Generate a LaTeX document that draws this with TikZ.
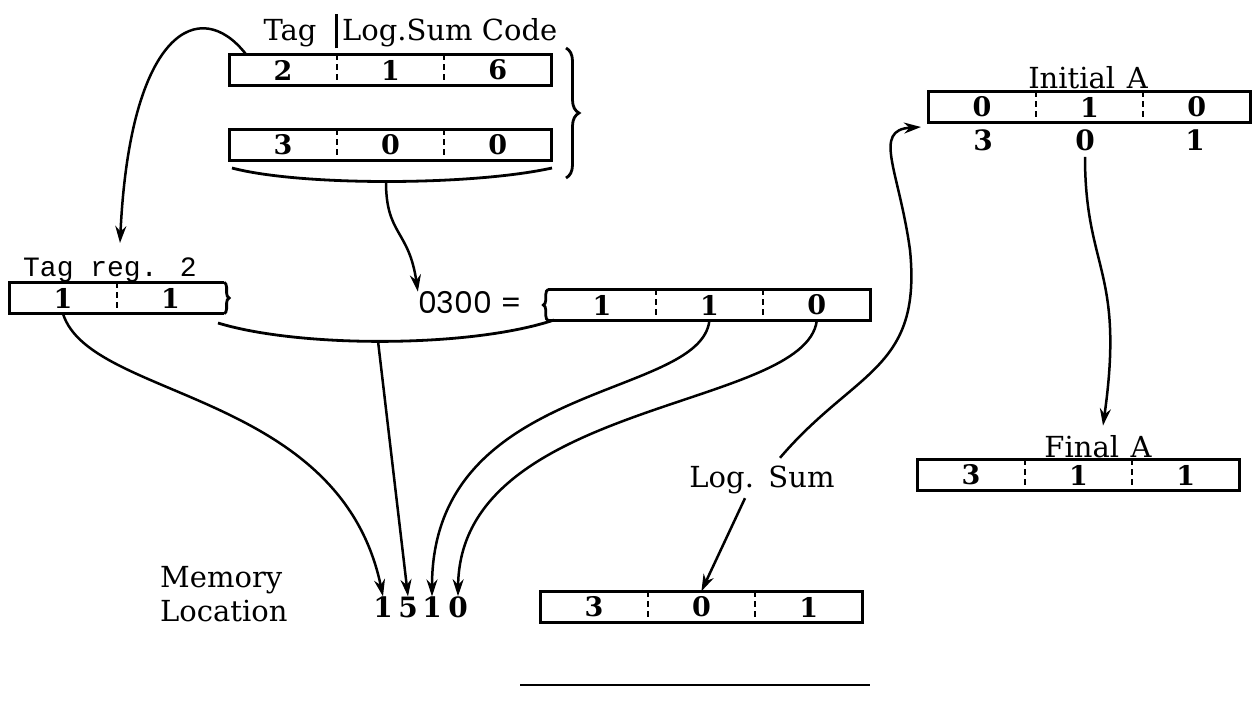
\documentclass[tikz,border=0pt]{standalone}
\usepackage{fontspec}
\setmainfont{DejaVu Serif}
\newfontfamily\codefont{Liberation Mono}
\newfontfamily\plainsans{Poppins}
\usetikzlibrary{positioning,decorations.pathreplacing,arrows.meta}

\tikzset{
  cell/.style={minimum width=107pt, minimum height=31pt, inner sep=0pt, font=\fontsize{27}{27}\selectfont\bfseries},
  reg/.style={line width=2.8pt},
  sep/.style={line width=2pt, dash pattern=on 6pt off 4pt},
  txt/.style={inner sep=0pt, font=\fontsize{29}{34}\selectfont},
  num/.style={inner sep=0pt, font=\fontsize{28}{30}\selectfont\bfseries},
  flow/.style={->, line width=2.5pt},
  curly/.style={reg, decorate, decoration={brace, amplitude=6pt}},
}

\begin{document}
\begin{tikzpicture}[x=1pt, y=-1pt, >={Stealth[length=17pt,width=11pt]}]
    \useasboundingbox (0,0) rectangle (1254,715);

    % Instruction words
    \node[cell] (wa) at (283,70) {2};
    \node[cell, right=0pt of wa] (wb) {1};
    \node[cell, right=0pt of wb] (wc) {6};
    \node[cell] (va) at (283,145) {3};
    \node[cell, right=0pt of va] (vb) {0};
    \node[cell, right=0pt of vb] (vc) {0};
    \draw[reg] (wa.north west) rectangle (wc.south east);
    \draw[reg] (va.north west) rectangle (vc.south east);
    \draw[sep] (wa.north east) -- (wa.south east);
    \draw[sep] (wb.north east) -- (wb.south east);
    \draw[sep] (va.north east) -- (va.south east);
    \draw[sep] (vb.north east) -- (vb.south east);

    % Headings over the words
    \node[txt] (tag) at (290,33) {Tag};
    \node[txt, anchor=west] (code) at (342,33) {Log.Sum Code};
    \draw[reg] ([yshift=6pt]wa.north east) -- ([yshift=40pt]wa.north east);

    % Brace and bracket round the words
    \coordinate (bt) at (566,48);
    \coordinate (bb) at (566,178);
    \draw[curly, decoration={amplitude=13pt}] (bt) -- (bb);
    \coordinate (ul) at (232,168);
    \coordinate (ur) at (552,168);
    \coordinate (um) at (386,182);
    \draw[reg] (ul) .. controls (300,186) and (470,186) .. (ur);

    % Tag register
    \node[txt, font=\codefont\fontsize{28}{32}\selectfont] (treg) at (110,270) {Tag reg. 2};
    \node[cell] (ga) at (63,298) {1};
    \node[cell, right=0pt of ga] (gb) {1};
    \draw[reg] (gb.north east) -- (ga.north west) -- (ga.south west) -- (gb.south east);
    \draw[curly, decoration={amplitude=5pt}] (gb.north east) -- (gb.south east);
    \draw[sep] (ga.north east) -- (ga.south east);

    % Contents of 0300
    \node[txt, font=\plainsans\fontsize{30}{34}\selectfont] (loc) at (470,303) {0300 =};
    \node[cell] (za) at (602,305) {1};
    \node[cell, right=0pt of za] (zb) {1};
    \node[cell, right=0pt of zb] (zc) {0};
    \draw[reg] (za.south west) -- (zc.south east) -- (zc.north east) -- (za.north west);
    \draw[curly, decoration={amplitude=5pt}] (za.south west) -- (za.north west);
    \draw[sep] (za.north east) -- (za.south east);
    \draw[sep] (zb.north east) -- (zb.south east);
    \coordinate (ll) at (218,323);
    \coordinate (lr) at (554,320);
    \coordinate (lm) at (378,341);
    \draw[reg] (ll) .. controls (300,348) and (470,348) .. (lr);

    % Memory location
    \node[txt, anchor=west, align=left] (mem) at (160,594) {Memory\\Location};
    \node[num] (ma) at (383,607) {1};
    \node[num] (mb) at (408,607) {5};
    \node[num] (mc) at (432,607) {1};
    \node[num] (md) at (458,607) {0};

    % Logical sum
    \node[txt] (lsum) at (762,480) {Log.\hspace{0.5em}Sum};
    \node[cell] (sa) at (594,607) {3};
    \node[cell, right=0pt of sa] (sb) {0};
    \node[cell, right=0pt of sb] (sc) {1};
    \draw[reg] (sa.north west) rectangle (sc.south east);
    \draw[sep] (sa.north east) -- (sa.south east);
    \draw[sep] (sb.north east) -- (sb.south east);

    % Initial A
    \node[txt] (inia) at (1088,78) {Initial\hspace{0.4em}A};
    \node[cell] (ia) at (982,107) {0};
    \node[cell, right=0pt of ia] (ib) {1};
    \node[cell, right=0pt of ib] (ic) {0};
    \draw[reg] (ia.north west) rectangle (ic.south east);
    \draw[sep] (ia.north east) -- (ia.south east);
    \draw[sep] (ib.north east) -- (ib.south east);
    \node[num] (pa) at (983,140) {3};
    \node[num] (pb) at (1085,140) {0};
    \node[num] (pc) at (1195,140) {1};

    % Final A
    \node[txt] (fina) at (1098,447) {Final\hspace{0.4em}A};
    \node[cell] (fa) at (971,475) {3};
    \node[cell, right=0pt of fa] (fb) {1};
    \node[cell, right=0pt of fb] (fc) {1};
    \draw[reg] (fa.north west) rectangle (fc.south east);
    \draw[sep] (fa.north east) -- (fa.south east);
    \draw[sep] (fb.north east) -- (fb.south east);

    % Arrows
    \coordinate (into) at (921,127);
    \draw[flow] ([xshift=-37pt]wa.north) .. controls (200,-5) and (130,30) .. (120,243);
    \draw[flow] (um) .. controls (386,235) and (409,230) .. (loc.north west);
    \draw[flow] (ga.south) .. controls (90,400) and (340,390) .. (ma.north);
    \draw[flow] (lm) -- (mb.north);
    \draw[flow] (zb.south) .. controls (700,400) and (432,380) .. (mc.north);
    \draw[flow] (zc.south) .. controls (805,410) and (460,400) .. (md.north);
    \draw[flow] ([xshift=-17pt,yshift=-4pt]lsum.south) -- (sb.north);
    \draw[flow] ([xshift=18pt,yshift=8pt]lsum.north) .. controls (855,370) and (922,370) .. (910,250)
        .. controls (899,170) and (872,130) .. (into);
    \draw[flow] ([yshift=-6pt]pb.south) .. controls (1085,270) and (1125,270) .. ([xshift=5pt,yshift=10pt]fina.north);

    % Rule at the foot
    \draw[line width=1.6pt] (520,685) -- (870,685);
\end{tikzpicture}
\end{document}
